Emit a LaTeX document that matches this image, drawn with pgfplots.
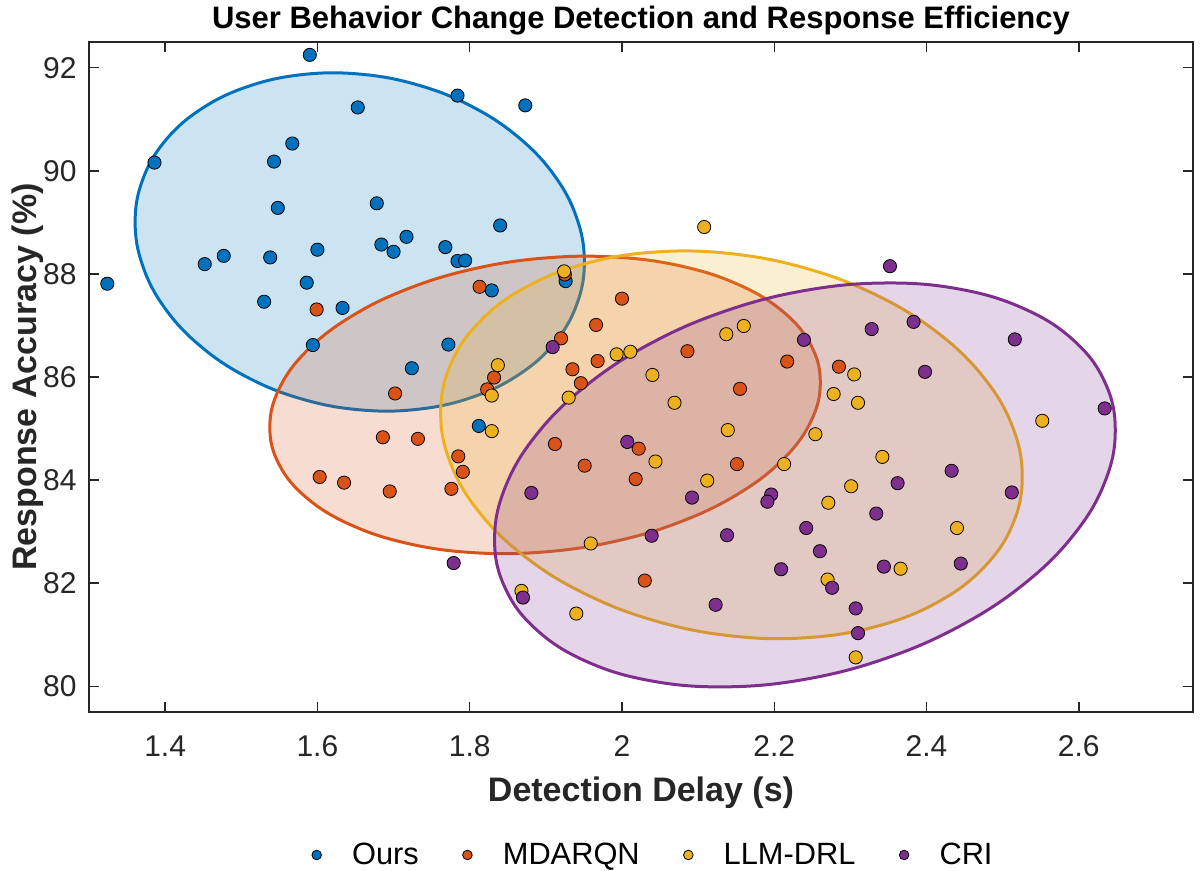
\documentclass[border=0pt]{standalone}
\usepackage{fontspec}
\setmainfont{Liberation Sans}
\usepackage{pgfplots}
\usepackage{pgfplotstable}
\pgfplotsset{compat=1.18}
\definecolor{cOurs}{rgb}{0,0.447,0.741}
\definecolor{cMD}{rgb}{0.85,0.325,0.098}
\definecolor{cLLM}{rgb}{0.929,0.694,0.125}
\definecolor{cCRI}{rgb}{0.494,0.184,0.556}
\definecolor{axc}{RGB}{38,38,38}

\pgfplotstableread{
x y
1.590 92.25
1.653 91.23
1.784 91.46
1.873 91.27
1.567 90.53
1.386 90.16
1.543 90.18
1.548 89.28
1.678 89.37
1.840 88.94
1.717 88.72
1.684 88.57
1.700 88.43
1.600 88.47
1.477 88.35
1.452 88.19
1.538 88.32
1.768 88.52
1.784 88.25
1.794 88.26
1.324 87.81
1.586 87.83
1.530 87.46
1.633 87.34
1.594 86.62
1.829 87.68
1.772 86.63
1.926 87.86
1.724 86.17
1.812 85.05
}\ours

\pgfplotstableread{
x y
1.599 87.31
1.813 87.75
1.925 87.99
1.920 86.75
2.000 87.52
1.966 87.01
1.968 86.31
1.935 86.15
1.946 85.88
1.832 85.99
1.823 85.76
1.702 85.68
1.686 84.83
1.732 84.80
1.785 84.46
1.791 84.16
1.603 84.06
1.635 83.95
1.695 83.78
1.776 83.83
1.912 84.70
2.022 84.61
1.951 84.28
2.018 84.02
2.086 86.50
2.217 86.30
2.285 86.20
2.155 85.77
2.151 84.31
2.030 82.05
}\mdarqn

\pgfplotstableread{
x y
1.924 88.05
2.108 88.91
1.837 86.23
1.829 85.64
1.829 84.95
1.993 86.44
2.011 86.49
1.930 85.60
2.040 86.04
2.069 85.50
2.044 84.36
1.959 82.77
2.160 86.99
2.137 86.83
2.305 86.05
2.278 85.67
2.310 85.50
2.552 85.15
2.139 84.97
2.254 84.89
2.213 84.31
2.342 84.45
2.112 83.99
2.301 83.88
2.271 83.56
2.440 83.07
2.366 82.28
2.270 82.07
1.868 81.85
1.940 81.41
2.307 80.56
}\llmdrl

\pgfplotstableread{
x y
1.909 86.58
2.007 84.74
1.881 83.75
2.092 83.66
2.039 82.92
1.779 82.39
2.352 88.15
2.239 86.72
2.328 86.93
2.383 87.07
2.516 86.73
2.398 86.10
2.634 85.39
2.433 84.18
2.362 83.94
2.512 83.76
2.196 83.72
2.191 83.58
2.334 83.35
2.242 83.07
2.138 82.93
2.260 82.62
2.209 82.27
2.344 82.32
2.445 82.38
2.276 81.91
1.870 81.72
2.123 81.58
2.307 81.51
2.310 81.03
}\cri

\begin{document}
\begin{tikzpicture}
\begin{axis}[
  name=ax, scale only axis, width=552bp, height=335bp,
  xmin=1.3, xmax=2.75, ymin=79.5, ymax=92.5,
  xtick={1.4,1.6,1.8,2,2.2,2.4,2.6},
  ytick={80,82,84,86,88,90,92},
  /pgf/number format/assume math mode=true,
  tick align=inside, major tick length=5bp,
  axis line style={axc, line width=0.7bp},
  tick style={axc, line width=0.7bp},
  ticklabel style={font=\fontsize{15bp}{18bp}\selectfont, text=axc},
  xticklabel style={anchor=north, inner sep=0pt, yshift=-11.5bp},
  yticklabel style={anchor=east, inner sep=0pt, xshift=-6bp},
  every axis title shift=0pt,
  title={User Behavior Change Detection and Response Efficiency},
  title style={font=\bfseries\fontsize{15.5bp}{18bp}\selectfont, at={(axis description cs:0.5,1.02015)}, anchor=base},
  xlabel={Detection Delay (s)},
  ylabel={Response Accuracy (\%)},
  xlabel style={font=\bfseries\fontsize{17bp}{20bp}\selectfont, text=axc, at={(axis description cs:0.5,-0.1343)}, anchor=base},
  ylabel style={font=\bfseries\fontsize{17bp}{20bp}\selectfont, text=axc, at={(axis description cs:-0.0471,0.5)}, anchor=base},
  legend columns=4,
  legend style={at={(axis description cs:0.51,-0.2134)}, anchor=center, draw=none, fill=none,
    font=\fontsize{15.4bp}{18bp}\selectfont,
    nodes={inner xsep=0pt},
    /tikz/every odd column/.style={column sep=15.1bp},
    /tikz/every even column/.style={column sep=21.7bp}},
  ellstyle/.style={forget plot, smooth cycle, tension=0.67, line width=1.5bp, fill opacity=0.2},
]
% ---- Ours
\addplot[only marks, mark=*, mark size=3.3bp, mark options={fill=cOurs, draw=black, line width=0.4bp},
  legend image code/.code={\filldraw[fill=cOurs, draw=black, line width=0.4bp] (0bp,0bp) circle (2.4bp);}]
  table[x=x,y=y]{\ours};
\addlegendentry{Ours}
\addplot[ellstyle, draw=cOurs, fill=cOurs] coordinates {
(1.9506,88.233) (1.9405,89.089) (1.9111,89.913) (1.8642,90.649) (1.8031,91.247) (1.7320,91.666)
(1.6556,91.877) (1.5793,91.866) (1.5081,91.634) (1.4470,91.197) (1.4001,90.584) (1.3707,89.837)
(1.3606,89.007) (1.3707,88.151) (1.4001,87.327) (1.4470,86.591) (1.5081,85.993) (1.5793,85.574)
(1.6556,85.363) (1.7320,85.374) (1.8031,85.606) (1.8642,86.043) (1.9111,86.656) (1.9405,87.403)
};
% ---- MDARQN
\addplot[only marks, mark=*, mark size=3.3bp, mark options={fill=cMD, draw=black, line width=0.4bp},
  legend image code/.code={\filldraw[fill=cMD, draw=black, line width=0.4bp] (0bp,0bp) circle (2.4bp);}]
  table[x=x,y=y]{\mdarqn};
\addlegendentry{MDARQN}
\addplot[ellstyle, draw=cMD, fill=cMD] coordinates {
(2.2605,85.894) (2.2482,86.616) (2.2121,87.261) (2.1546,87.782) (2.0798,88.145) (1.9926,88.325)
(1.8990,88.309) (1.8054,88.099) (1.7183,87.709) (1.6434,87.166) (1.5859,86.506) (1.5498,85.775)
(1.5375,85.023) (1.5498,84.300) (1.5859,83.655) (1.6434,83.134) (1.7183,82.771) (1.8054,82.591)
(1.8990,82.607) (1.9926,82.817) (2.0798,83.207) (2.1546,83.750) (2.2121,84.410) (2.2482,85.141)
};
% ---- LLM-DRL
\addplot[only marks, mark=*, mark size=3.3bp, mark options={fill=cLLM, draw=black, line width=0.4bp},
  legend image code/.code={\filldraw[fill=cLLM, draw=black, line width=0.4bp] (0bp,0bp) circle (2.4bp);}]
  table[x=x,y=y]{\llmdrl};
\addlegendentry{LLM-DRL}
\addplot[ellstyle, draw=cLLM, fill=cLLM] coordinates {
(2.5257,84.065) (2.5127,85.045) (2.4745,86.002) (2.4138,86.868) (2.3348,87.585) (2.2426,88.105)
(2.1438,88.392) (2.0450,88.426) (1.9529,88.205) (1.8738,87.744) (1.8131,87.074) (1.7749,86.242)
(1.7619,85.303) (1.7749,84.323) (1.8131,83.366) (1.8738,82.500) (1.9529,81.783) (2.0450,81.263)
(2.1438,80.976) (2.2426,80.942) (2.3348,81.163) (2.4138,81.624) (2.4745,82.294) (2.5127,83.126)
};
% ---- CRI
\addplot[only marks, mark=*, mark size=3.3bp, mark options={fill=cCRI, draw=black, line width=0.4bp},
  legend image code/.code={\filldraw[fill=cCRI, draw=black, line width=0.4bp] (0bp,0bp) circle (2.4bp);}]
  table[x=x,y=y]{\cri};
\addlegendentry{CRI}
\addplot[ellstyle, draw=cCRI, fill=cCRI] coordinates {
(2.6479,84.967) (2.6340,85.907) (2.5933,86.710) (2.5285,87.323) (2.4441,87.703) (2.3458,87.824)
(2.2403,87.678) (2.1348,87.275) (2.0365,86.642) (1.9521,85.823) (1.8873,84.874) (1.8466,83.858)
(1.8327,82.845) (1.8466,81.905) (1.8873,81.102) (1.9521,80.489) (2.0365,80.109) (2.1348,79.988)
(2.2403,80.134) (2.3458,80.537) (2.4441,81.170) (2.5285,81.989) (2.5933,82.938) (2.6340,83.954)
};
\end{axis}
\pgfresetboundingbox
\path[use as bounding box] ([xshift=-44.5bp,yshift=-79.5bp]ax.south west) rectangle ([xshift=3.5bp,yshift=21bp]ax.north east);
\end{tikzpicture}
\end{document}
